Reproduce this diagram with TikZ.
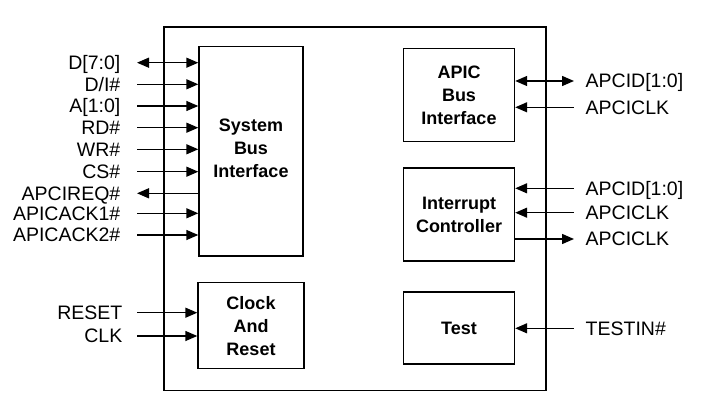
\documentclass[tikz,border=0pt]{standalone}
\usepackage{fontspec}
\setmainfont{Liberation Sans}
\usetikzlibrary{arrows.meta,positioning,calc}

\begin{document}
\begin{tikzpicture}[x=1pt, y=-1pt, > = {Triangle[length=12pt,width=10pt]}, line width=1.4pt]
    \tikzstyle{bloco}=[rectangle, draw, align=center, inner sep=0pt, font=\fontsize{18}{23}\selectfont\bfseries]
    \tikzstyle{sinal}=[inner sep=0pt, text height=13.5pt, text depth=0pt, font=\fontsize{19.5}{22}\selectfont]

    \useasboundingbox (0,0) rectangle (701,414);

    % Blocos
    \node[bloco, minimum width=382pt, minimum height=363pt] (chip) at (355,208.7) {};
    \node[bloco, minimum width=104pt, minimum height=209pt] (sbi) at (251,151.3) {};
    \node[font=\fontsize{18}{23}\selectfont\bfseries, align=center] (sbit) at (251,148) {System\\Bus\\Interface};
    \node[bloco, minimum width=106pt, minimum height=86pt] (car) at (251,325.7) {Clock\\And\\Reset};
    \node[bloco, minimum width=111pt, minimum height=93pt] (apic) at (459,95) {APIC\\Bus\\Interface};
    \node[bloco, minimum width=111pt, minimum height=93pt] (intc) at (459,214.5) {Interrupt\\Controller};
    \node[bloco, minimum width=111pt, minimum height=72pt] (test) at (459,328) {Test};

    % Sinais a esquerda
    \node[sinal, anchor=east] (d) at (121,62.7) {D[7:0]};
    \node[sinal, anchor=east] (di) at (121,84.3) {D/I\#};
    \node[sinal, anchor=east] (a) at (121,106) {A[1:0]};
    \node[sinal, anchor=east] (rd) at (121,127.7) {RD\#};
    \node[sinal, anchor=east] (wr) at (121,149.3) {WR\#};
    \node[sinal, anchor=east] (cs) at (121,171.7) {CS\#};
    \node[sinal, anchor=east] (req) at (121,193.3) {APCIREQ\#};
    \node[sinal, anchor=east] (ack1) at (121,213.3) {APICACK1\#};
    \node[sinal, anchor=east] (ack2) at (121,235) {APICACK2\#};
    \node[sinal, anchor=east] (rst) at (123,312.7) {RESET};
    \node[sinal, anchor=east] (clk) at (123,336) {CLK};

    % Sinais a direita
    \node[sinal, anchor=west] (aid1) at (585,81) {APCID[1:0]};
    \node[sinal, anchor=west] (aclk1) at (585,107.3) {APCICLK};
    \node[sinal, anchor=west] (aid2) at (585,188.3) {APCID[1:0]};
    \node[sinal, anchor=west] (aclk2) at (585,212.7) {APCICLK};
    \node[sinal, anchor=west] (aclk3) at (585,239) {APCICLK};
    \node[sinal, anchor=west] (tin) at (585,328.3) {TESTIN\#};

    % Arestas
    \draw[<->] ([xshift=16pt]d.east) -- (d -| sbi.west);
    \draw[->] ([xshift=16pt]di.east) -- (di -| sbi.west);
    \draw[->] ([xshift=16pt]a.east) -- (a -| sbi.west);
    \draw[->] ([xshift=16pt]rd.east) -- (rd -| sbi.west);
    \draw[->] ([xshift=16pt]wr.east) -- (wr -| sbi.west);
    \draw[->] ([xshift=16pt]cs.east) -- (cs -| sbi.west);
    \draw[<-] ([xshift=16pt]req.east) -- (req -| sbi.west);
    \draw[->] ([xshift=16pt]ack1.east) -- (ack1 -| sbi.west);
    \draw[->] ([xshift=16pt]ack2.east) -- (ack2 -| sbi.west);
    \draw[->] ([xshift=14pt]rst.east) -- (rst -| car.west);
    \draw[->] ([xshift=14pt]clk.east) -- (clk -| car.west);

    \draw[<->] (aid1 -| apic.east) -- ([xshift=-11pt]aid1.west);
    \draw[<-] (aclk1 -| apic.east) -- ([xshift=-11pt]aclk1.west);
    \draw[<-] (aid2 -| intc.east) -- ([xshift=-11pt]aid2.west);
    \draw[<-] (aclk2 -| intc.east) -- ([xshift=-11pt]aclk2.west);
    \draw[->] (aclk3 -| intc.east) -- ([xshift=-11pt]aclk3.west);
    \draw[<-] (tin -| test.east) -- ([xshift=-11pt]tin.west);
\end{tikzpicture}
\end{document}
